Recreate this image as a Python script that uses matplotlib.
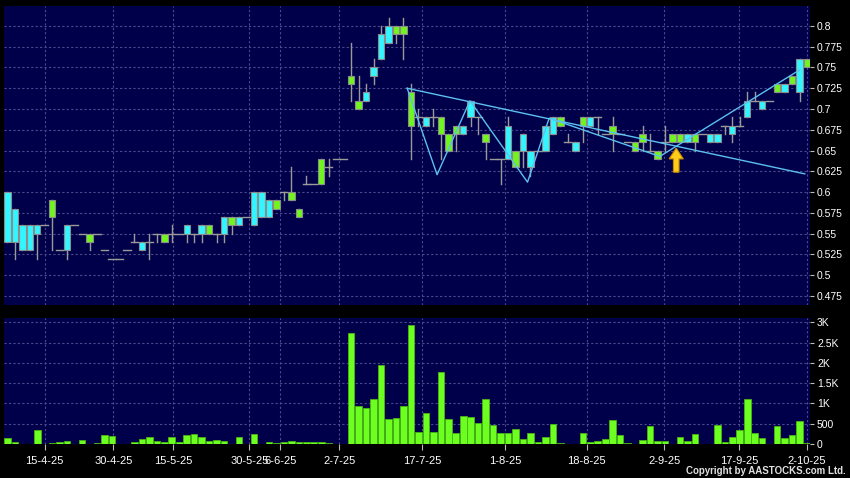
import numpy as np
import matplotlib.pyplot as plt
from matplotlib.patches import Rectangle, FancyArrow
from matplotlib.ticker import FuncFormatter

# Daily OHLC (one entry per bar, 8-4-25 .. 2-10-25)
opens = [0.60, 0.58, 0.56, 0.56, 0.56, 0.56, 0.57, 0.53, 0.56, 0.56,
         0.55, 0.54, 0.55, 0.53, 0.52, 0.52, 0.53, 0.54, 0.54, 0.54,
         0.55, 0.54, 0.55, 0.55, 0.56, 0.55, 0.56, 0.55, 0.55, 0.57,
         0.56, 0.57, 0.57, 0.60, 0.60, 0.59, 0.58, 0.60, 0.59, 0.57,
         0.61, 0.61, 0.61, 0.63, 0.64, 0.64, 0.73, 0.70, 0.72, 0.75,
         0.79, 0.80, 0.79, 0.79, 0.68, 0.69, 0.69, 0.69, 0.67, 0.65,
         0.67, 0.68, 0.71, 0.69, 0.66, 0.64, 0.64, 0.68, 0.63, 0.67,
         0.65, 0.65, 0.68, 0.69, 0.68, 0.66, 0.66, 0.68, 0.69, 0.69,
         0.67, 0.67, 0.67, 0.66, 0.65, 0.66, 0.65, 0.64, 0.66, 0.66,
         0.66, 0.67, 0.66, 0.67, 0.67, 0.67, 0.68, 0.68, 0.68, 0.71,
         0.71, 0.71, 0.71, 0.72, 0.73, 0.73, 0.76, 0.75]
highs = [0.60, 0.58, 0.56, 0.56, 0.56, 0.56, 0.59, 0.53, 0.56, 0.56,
         0.55, 0.55, 0.55, 0.53, 0.52, 0.52, 0.53, 0.55, 0.54, 0.55,
         0.55, 0.55, 0.56, 0.55, 0.56, 0.55, 0.56, 0.56, 0.55, 0.57,
         0.57, 0.57, 0.57, 0.60, 0.60, 0.59, 0.59, 0.60, 0.63, 0.58,
         0.62, 0.61, 0.64, 0.64, 0.64, 0.64, 0.78, 0.74, 0.73, 0.76,
         0.80, 0.81, 0.80, 0.81, 0.73, 0.70, 0.69, 0.70, 0.69, 0.67,
         0.68, 0.68, 0.71, 0.69, 0.67, 0.64, 0.64, 0.69, 0.65, 0.67,
         0.65, 0.65, 0.68, 0.69, 0.69, 0.67, 0.66, 0.69, 0.69, 0.69,
         0.67, 0.69, 0.67, 0.66, 0.66, 0.68, 0.67, 0.65, 0.68, 0.67,
         0.67, 0.67, 0.67, 0.67, 0.67, 0.67, 0.68, 0.69, 0.69, 0.72,
         0.72, 0.71, 0.71, 0.73, 0.73, 0.74, 0.76, 0.76]
lows = [0.54, 0.52, 0.53, 0.53, 0.52, 0.56, 0.53, 0.53, 0.52, 0.56,
        0.55, 0.53, 0.55, 0.53, 0.52, 0.52, 0.53, 0.54, 0.53, 0.52,
        0.54, 0.54, 0.54, 0.55, 0.54, 0.54, 0.54, 0.55, 0.54, 0.54,
        0.55, 0.56, 0.57, 0.56, 0.57, 0.57, 0.58, 0.59, 0.59, 0.57,
        0.61, 0.61, 0.61, 0.62, 0.64, 0.64, 0.71, 0.70, 0.71, 0.73,
        0.76, 0.78, 0.78, 0.76, 0.64, 0.68, 0.68, 0.68, 0.64, 0.65,
        0.65, 0.67, 0.68, 0.67, 0.64, 0.64, 0.61, 0.64, 0.63, 0.63,
        0.62, 0.65, 0.65, 0.67, 0.68, 0.66, 0.65, 0.66, 0.68, 0.67,
        0.67, 0.65, 0.67, 0.66, 0.65, 0.65, 0.65, 0.64, 0.65, 0.66,
        0.66, 0.66, 0.65, 0.67, 0.66, 0.66, 0.67, 0.66, 0.68, 0.69,
        0.71, 0.70, 0.71, 0.72, 0.72, 0.73, 0.71, 0.75]
closes = [0.54, 0.54, 0.53, 0.53, 0.55, 0.56, 0.59, 0.53, 0.53, 0.56,
          0.55, 0.55, 0.55, 0.53, 0.52, 0.52, 0.53, 0.54, 0.53, 0.54,
          0.55, 0.55, 0.55, 0.55, 0.55, 0.55, 0.55, 0.56, 0.55, 0.55,
          0.57, 0.56, 0.57, 0.56, 0.57, 0.57, 0.59, 0.60, 0.60, 0.58,
          0.61, 0.61, 0.64, 0.63, 0.64, 0.64, 0.74, 0.71, 0.71, 0.74,
          0.76, 0.78, 0.80, 0.80, 0.72, 0.69, 0.68, 0.69, 0.69, 0.67,
          0.68, 0.67, 0.69, 0.69, 0.67, 0.64, 0.64, 0.64, 0.65, 0.65,
          0.63, 0.65, 0.65, 0.67, 0.69, 0.66, 0.65, 0.69, 0.68, 0.69,
          0.67, 0.68, 0.67, 0.66, 0.66, 0.67, 0.65, 0.65, 0.66, 0.67,
          0.67, 0.66, 0.67, 0.67, 0.66, 0.66, 0.68, 0.67, 0.68, 0.69,
          0.71, 0.70, 0.71, 0.73, 0.72, 0.74, 0.72, 0.76]
volumes = [140, 58, 10, 5, 345, 0, 25, 41, 74, 0,
           90, 0, 25, 222, 205, 0, 0, 50, 115, 165,
           66, 50, 165, 50, 222, 238, 180, 66, 99, 82,
           0, 173, 0, 255, 0, 50, 25, 50, 74, 41,
           41, 41, 41, 25, 5, 5, 2730, 937, 896, 1100,
           1950, 617, 633, 945, 2935, 304, 773, 304, 1767, 608,
           263, 699, 658, 510, 1101, 460, 263, 263, 370, 123,
           263, 41, 181, 493, 16, 0, 0, 263, 41, 66,
           115, 592, 214, 25, 0, 90, 444, 82, 74, 0,
           164, 66, 238, 0, 0, 460, 49, 164, 345, 1101,
           263, 148, 0, 444, 148, 222, 567, 33]

date_labels = ['15-4-25', '30-4-25', '15-5-25', '30-5-25', '6-6-25', '2-7-25',
               '17-7-25', '1-8-25', '18-8-25', '2-9-25', '17-9-25', '2-10-25']
date_pos = [5.0, 14.2, 22.2, 32.4, 36.5, 44.4, 55.5, 66.6, 77.5, 87.9, 97.9, 107.0]

# hand drawn lines (bar index, price)
trend_x = [53.5, 106.7]
trend_y = [0.725, 0.622]
zig_x = [53.5, 57.5, 61.9, 69.6, 72.5, 87.3, 106.0]
zig_y = [0.725, 0.621, 0.710, 0.612, 0.689, 0.643, 0.747]
arrow_x, arrow_base, arrow_tip = 89.5, 0.624, 0.653

price_ticks = [0.475, 0.5, 0.525, 0.55, 0.575, 0.6, 0.625, 0.65, 0.675,
               0.7, 0.725, 0.75, 0.775, 0.8]
vol_ticks = [0, 500, 1000, 1500, 2000, 2500, 3000]

navy = '#00004a'
gridc = '#4a4a8c'
green = '#70f51e'
cyan = '#33f5ff'
wick = '#9a9a9a'

plt.rcParams['font.family'] = ['Liberation Sans', 'DejaVu Sans']

fig = plt.figure(figsize=(8.5, 4.78), dpi=100, facecolor='black')
ax = fig.add_axes([4/850, 173/478, 806/850, 299/478], facecolor=navy)
axv = fig.add_axes([4/850, 34/478, 806/850, 126/478], facecolor=navy)

n = len(opens)
xs = np.arange(n)

for a in (ax, axv):
    for s in a.spines.values():
        s.set_visible(False)
    a.set_xlim(-0.45, 107.4)
    a.set_xticks(date_pos)
    a.grid(True, color=gridc, linestyle=(0, (2, 2)), linewidth=0.8)
    a.set_axisbelow(True)
    a.yaxis.tick_right()
    a.tick_params(axis='y', colors='#bbbbbb', labelcolor='white', length=3,
                  width=0.8, pad=2, labelsize=7.5)

ax.tick_params(axis='x', length=0, labelbottom=False)
axv.tick_params(axis='x', colors='#bbbbbb', labelcolor='white', length=4,
                width=0.8, pad=5, labelsize=8)
axv.set_xticklabels(date_labels)

# candles
bw = 0.86
for i in xs:
    o, h, l, c = opens[i], highs[i], lows[i], closes[i]
    ax.plot([i, i], [l, h], color=wick, lw=1, zorder=2)
    if o == c:
        ax.plot([i - 0.48, i + 0.48], [o, o], color=wick, lw=1, zorder=3)
    else:
        col = green if c > o else cyan
        ax.add_patch(Rectangle((i - bw / 2, min(o, c)), bw, abs(c - o),
                               facecolor=col, edgecolor='#8c8c8c', lw=0.8, zorder=3))

ax.plot(trend_x, trend_y, color='#5cc0f0', lw=1, zorder=4)
ax.plot(zig_x, zig_y, color='#5cc0f0', lw=1, zorder=4)
ax.add_patch(FancyArrow(arrow_x, arrow_base, 0, arrow_tip - arrow_base,
                        width=0.75, head_width=1.9, head_length=0.013,
                        length_includes_head=True, facecolor='#ffcc1a',
                        edgecolor='#c98a00', lw=0.8, zorder=5))

ax.set_ylim(0.4642, 0.824)
ax.set_yticks(price_ticks)
ax.yaxis.set_major_formatter(FuncFormatter(lambda v, p: f'{v:g}'))

# volume
vx = [i for i in xs if volumes[i] > 0]
vy = [volumes[i] for i in vx]
axv.bar(vx, vy, width=0.88, color='#6cff1f', edgecolor='#47b514', lw=0.6, zorder=3)
axv.set_ylim(0, 3106)
axv.set_yticks(vol_ticks)
axv.yaxis.set_major_formatter(FuncFormatter(
    lambda v, p: '0' if v == 0 else (f'{v/1000:g}K' if v >= 1000 else f'{v:g}')))

fig.text(846/850, 1.5/478, 'Copyright by AASTOCKS.com Ltd.', ha='right', va='bottom',
         color='#e0e0e0', fontsize=7, fontweight='bold')

fig.savefig('out.png', dpi=100, facecolor='black')
